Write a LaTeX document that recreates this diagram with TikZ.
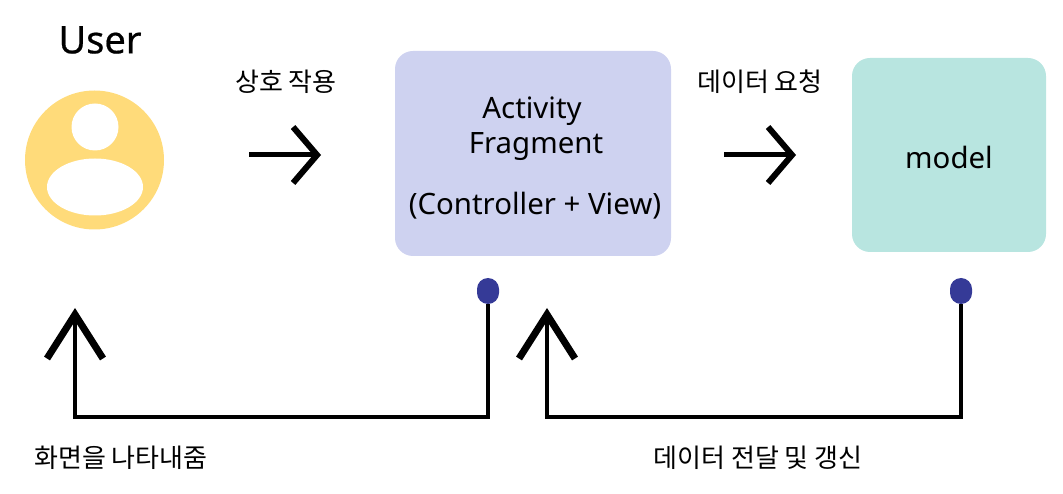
\documentclass[tikz,border=0pt]{standalone}
\usepackage{fontspec}
\setmainfont{Noto Sans}
\newfontfamily\cjk{Noto Sans CJK KR}
\newfontfamily\titlefont[FakeBold=0.5]{Noto Sans}
\usetikzlibrary{arrows.meta,positioning,shapes.geometric,shapes.misc}
\definecolor{pinblue}{HTML}{353A97}
\definecolor{userface}{HTML}{FFDB7A}
\definecolor{viewfill}{HTML}{CED2F0}
\definecolor{modelfill}{HTML}{B8E5E0}

\begin{document}
\begin{tikzpicture}[x=1pt,y=-1pt,
    card/.style={draw=none, rounded corners=18pt, inner sep=0pt, align=center},
    label/.style={inner sep=0pt, font=\fontsize{26}{30}\selectfont\cjk},
    boxtext/.style={inner sep=0pt, font=\fontsize{29.4}{36}\selectfont},
    arrow/.style={-{Straight Barb[length=24pt,width=56pt,line width=6pt]}, line width=5pt},
    link/.style={line width=4pt, -{Straight Barb[length=44pt,width=56pt,line width=7pt]}},
    pin/.style={rounded rectangle, rotate=90, fill=pinblue, draw=none, minimum width=26pt, minimum height=22pt, inner sep=0pt}
]
\useasboundingbox (0,0) rectangle (1063,494);

% User
\node[inner sep=0pt, font=\fontsize{38}{44}\selectfont\titlefont] (usertitle) at (100,40) {User};
\node[circle, fill=userface, minimum size=139pt, inner sep=0pt] (user) at (94.5,160) {};
\node[circle, fill=white, minimum size=47pt, inner sep=0pt] (head) at (95,127) {};
\node[ellipse, fill=white, minimum width=96pt, minimum height=57pt, inner sep=0pt] (body) at (95,187) {};

% Boxes
\node[card, fill=viewfill, minimum width=276pt, minimum height=205pt] (view) at (533,153.5) {};
\node[boxtext] (viewa) at (532,111) {Activity};
\node[boxtext] (viewb) at (536,147) {Fragment};
\node[boxtext] (viewc) at (535,206) {(Controller + View)};
\node[card, fill=modelfill, minimum width=194pt, minimum height=194pt] (model) at (949,155) {};
\node[boxtext] (modeltext) at (949,157) {model};

% Labels
\node[label] (interact) at (286,82) {상호 작용};
\node[label] (request) at (760,82) {데이터 요청};
\node[label] (show) at (121,458) {화면을 나타내줌};
\node[label] (pass) at (758,458) {데이터 전달 및 갱신};

% Arrows
\coordinate (a1s) at (249,155);
\coordinate (a1e) at (321,155);
\coordinate (a2s) at (724,155);
\coordinate (a2e) at (796,155);
\draw[arrow] (a1s) -- (a1e);
\draw[arrow] (a2s) -- (a2e);

% Return lines
\node[pin] (pinview) at (488,291) {};
\node[pin] (pinmodel) at (961,291) {};
\coordinate (b1) at (75,308);
\coordinate (b2) at (547,308);
\draw[link] (pinview.west) |- (75,417) -- (b1);
\draw[link] (pinmodel.west) |- (547,417) -- (b2);
\end{tikzpicture}
\end{document}
